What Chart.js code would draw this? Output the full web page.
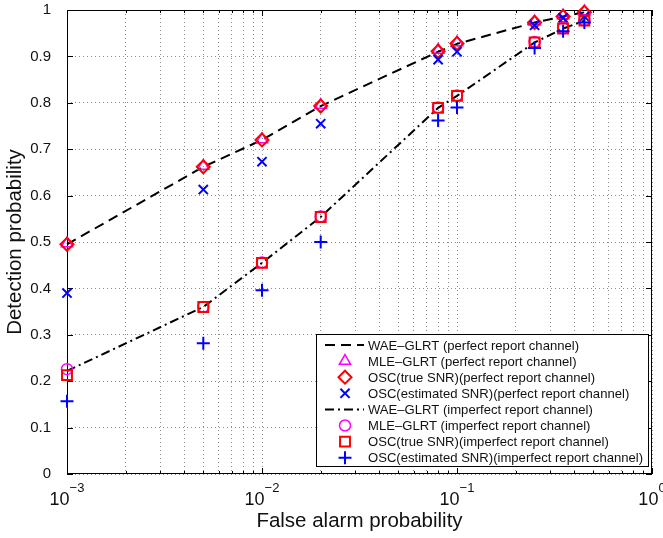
<!DOCTYPE html>
<html lang="en">
<head>
    <meta charset="UTF-8">
    <title>Detection vs False Alarm Probability</title>
    <script src="https://cdn.jsdelivr.net/npm/chart.js"></script>
    <style>
        * { margin: 0; padding: 0; box-sizing: border-box; }
        body { background: #ffffff; }
        .chart-wrap { width: 663px; height: 538px; position: relative; }
    </style>
</head>
<body>
    <div class="chart-wrap">
        <canvas id="rocChart" width="663" height="538"></canvas>
    </div>

    <script>
        // False alarm probabilities (x positions of all series)
        const falseAlarm = [0.001, 0.005, 0.01, 0.02, 0.08, 0.1, 0.25, 0.35, 0.45];

        // Perfect report channel
        const waePerfect   = [0.495, 0.662, 0.720, 0.793, 0.910, 0.927, 0.973, 0.986, 0.995];
        const mlePerfect   = [0.497, 0.664, 0.721, 0.795, 0.914, 0.930, 0.975, 0.988, 0.997];
        const oscTruePerf  = [0.495, 0.662, 0.720, 0.793, 0.911, 0.928, 0.973, 0.986, 0.995];
        const oscEstPerf   = [0.390, 0.613, 0.673, 0.755, 0.893, 0.910, 0.967, 0.983, 0.986];

        // Imperfect report channel
        const waeImperfect = [0.222, 0.360, 0.455, 0.554, 0.789, 0.815, 0.930, 0.960, 0.977];
        const mleImperfect = [0.226, 0.360, 0.456, 0.555, 0.790, 0.816, 0.931, 0.961, 0.978];
        const oscTrueImp   = [0.213, 0.360, 0.455, 0.554, 0.789, 0.815, 0.930, 0.960, 0.977];
        const oscEstImp    = [0.157, 0.282, 0.396, 0.500, 0.762, 0.790, 0.918, 0.954, 0.973];

        const yTicks = [0, 0.1, 0.2, 0.3, 0.4, 0.5, 0.6, 0.7, 0.8, 0.9, 1];
        const xDecades = [-3, -2, -1, 0];

        const FONT = "'Liberation Sans', Arial, sans-serif";
        Chart.defaults.font.family = FONT;
        Chart.defaults.color = '#111';

        function pts(ys) {
            return falseAlarm.map((x, i) => ({ x: x, y: ys[i] }));
        }

        function lineSet(label, ys, dash) {
            return {
                label: label, data: pts(ys), showLine: true, clip: false,
                borderColor: '#000', borderWidth: 2, borderDash: dash,
                pointRadius: 0, pointHoverRadius: 0, fill: false
            };
        }

        function markerSet(label, ys, style, color, radius, width) {
            return {
                label: label, data: pts(ys), showLine: false, clip: false,
                pointStyle: style, pointRadius: radius, pointHoverRadius: radius,
                pointBorderColor: color, pointBackgroundColor: 'rgba(0,0,0,0)',
                pointBorderWidth: width, borderColor: color, backgroundColor: 'rgba(0,0,0,0)'
            };
        }

        const datasets = [
            lineSet('WAE\u2013GLRT (perfect report channel)', waePerfect, [10, 6]),
            markerSet('MLE\u2013GLRT (perfect report channel)', mlePerfect, 'triangle', '#ff00ff', 6.5, 1.5),
            markerSet('OSC(true SNR)(perfect report channel)', oscTruePerf, 'rectRot', '#ff0000', 6.5, 2),
            markerSet('OSC(estimated SNR)(perfect report channel)', oscEstPerf, 'crossRot', '#0000ff', 6.5, 2),
            lineSet('WAE\u2013GLRT (imperfect report channel)', waeImperfect, [9, 4, 2, 4]),
            markerSet('MLE\u2013GLRT (imperfect report channel)', mleImperfect, 'circle', '#ff00ff', 5.5, 1.5),
            markerSet('OSC(true SNR)(imperfect report channel)', oscTrueImp, 'rect', '#ff0000', 7, 2),
            markerSet('OSC(estimated SNR)(imperfect report channel)', oscEstImp, 'cross', '#0000ff', 6.5, 2)
        ];
        // later series on top, like the original plot
        datasets.forEach((d, i) => { d.order = datasets.length - i; });

        // box, inward ticks and x tick labels (10^n)
        const framePlugin = {
            id: 'frame',
            beforeDatasetsDraw(chart) {
                const { ctx, chartArea: a, scales } = chart;
                ctx.save();
                ctx.strokeStyle = '#000';
                ctx.lineWidth = 1;
                ctx.setLineDash([]);
                ctx.strokeRect(a.left + 0.5, a.top + 0.5, a.right - a.left - 1, a.bottom - a.top - 1);

                ctx.beginPath();
                scales.x.ticks.forEach(t => {
                    const px = Math.round(scales.x.getPixelForValue(t.value)) + 0.5;
                    const major = xDecades.some(e => Math.abs(Math.log10(t.value) - e) < 1e-9);
                    const len = major ? 6 : 3;
                    ctx.moveTo(px, a.bottom); ctx.lineTo(px, a.bottom - len);
                    ctx.moveTo(px, a.top); ctx.lineTo(px, a.top + len);
                });
                yTicks.forEach(v => {
                    const py = Math.round(scales.y.getPixelForValue(v)) + 0.5;
                    ctx.moveTo(a.left, py); ctx.lineTo(a.left + 6, py);
                    ctx.moveTo(a.right, py); ctx.lineTo(a.right - 6, py);
                });
                ctx.stroke();

                // x tick labels with superscript exponent
                ctx.fillStyle = '#111';
                ctx.textBaseline = 'alphabetic';
                xDecades.forEach(e => {
                    const px = scales.x.getPixelForValue(Math.pow(10, e));
                    const base = '10';
                    const expo = e < 0 ? '\u2212' + (-e) : String(e);
                    ctx.font = '18px ' + FONT;
                    const bw = ctx.measureText(base).width;
                    ctx.font = '13px ' + FONT;
                    const ew = ctx.measureText(expo).width;
                    const x0 = px - (bw + ew) / 2;
                    ctx.font = '18px ' + FONT;
                    ctx.textAlign = 'left';
                    ctx.fillText(base, x0, a.bottom + 31);
                    ctx.font = '13px ' + FONT;
                    ctx.fillText(expo, x0 + bw, a.bottom + 18);
                });
                ctx.restore();
            }
        };

        // boxed legend in the lower right corner of the plot
        const legendPlugin = {
            id: 'boxLegend',
            afterDraw(chart) {
                const ctx = chart.ctx;
                const box = { left: 316, top: 334, width: 332, height: 132 };
                const rowH = 16.1;
                ctx.save();
                ctx.fillStyle = '#fff';
                ctx.fillRect(box.left, box.top, box.width, box.height);
                ctx.strokeStyle = '#000';
                ctx.lineWidth = 1;
                ctx.strokeRect(box.left + 0.5, box.top + 0.5, box.width, box.height);

                ctx.font = '13.1px ' + FONT;
                ctx.textBaseline = 'middle';
                ctx.textAlign = 'left';
                chart.data.datasets.forEach((d, i) => {
                    const y = box.top + 11 + i * rowH;
                    if (d.showLine) {
                        ctx.save();
                        ctx.strokeStyle = d.borderColor;
                        ctx.lineWidth = d.borderWidth;
                        ctx.setLineDash(d.borderDash);
                        ctx.beginPath();
                        ctx.moveTo(box.left + 9, y);
                        ctx.lineTo(box.left + 48, y);
                        ctx.stroke();
                        ctx.restore();
                    } else {
                        ctx.save();
                        ctx.strokeStyle = d.pointBorderColor;
                        ctx.fillStyle = 'rgba(0,0,0,0)';
                        ctx.lineWidth = d.pointBorderWidth;
                        ctx.setLineDash([]);
                        Chart.helpers.drawPoint(ctx, {
                            pointStyle: d.pointStyle, radius: d.pointRadius,
                            rotation: 0, borderWidth: d.pointBorderWidth
                        }, box.left + 29, y);
                        ctx.restore();
                    }
                    ctx.fillStyle = '#111';
                    ctx.fillText(d.label, box.left + 52, y + 1);
                });
                ctx.restore();
            }
        };

        new Chart(document.getElementById('rocChart'), {
            type: 'scatter',
            data: { datasets: datasets },
            options: {
                responsive: false,
                animation: false,
                events: [],
                layout: { padding: { top: 10, right: 11, left: 0, bottom: 0 } },
                plugins: { legend: { display: false }, tooltip: { enabled: false } },
                scales: {
                    x: {
                        type: 'logarithmic',
                        min: 0.001, max: 1,
                        afterBuildTicks(scale) {
                            const t = [];
                            for (let e = -3; e < 0; e++) {
                                for (let m = 1; m < 10; m++) t.push({ value: +(m * Math.pow(10, e)).toPrecision(3) });
                            }
                            t.push({ value: 1 });
                            scale.ticks = t;
                        },
                        afterFit(scale) { scale.height = 64; },
                        ticks: { display: false, autoSkip: false },
                        grid: { color: 'rgba(0,0,0,0.45)', lineWidth: 1, drawTicks: false },
                        border: { display: false, dash: [1, 3] },
                        title: {
                            display: true, text: 'False alarm probability',
                            font: { size: 20.5 }, color: '#111', padding: { top: 0, bottom: 4 }
                        }
                    },
                    y: {
                        type: 'linear',
                        min: 0, max: 1,
                        afterBuildTicks(scale) { scale.ticks = yTicks.map(v => ({ value: v })); },
                        afterFit(scale) {
                            scale.width = 67;
                            scale.paddingTop = 0;
                            scale.paddingBottom = 0;
                        },
                        ticks: {
                            font: { size: 15 }, color: '#111', padding: 16,
                            callback: v => String(+v.toFixed(1))
                        },
                        grid: { color: 'rgba(0,0,0,0.45)', lineWidth: 1, drawTicks: false },
                        border: { display: false, dash: [1, 3] },
                        title: {
                            display: true, text: 'Detection probability',
                            font: { size: 20.5 }, color: '#111', padding: { top: 3, bottom: 0 }
                        }
                    }
                }
            },
            plugins: [framePlugin, legendPlugin]
        });
    </script>
</body>
</html>
